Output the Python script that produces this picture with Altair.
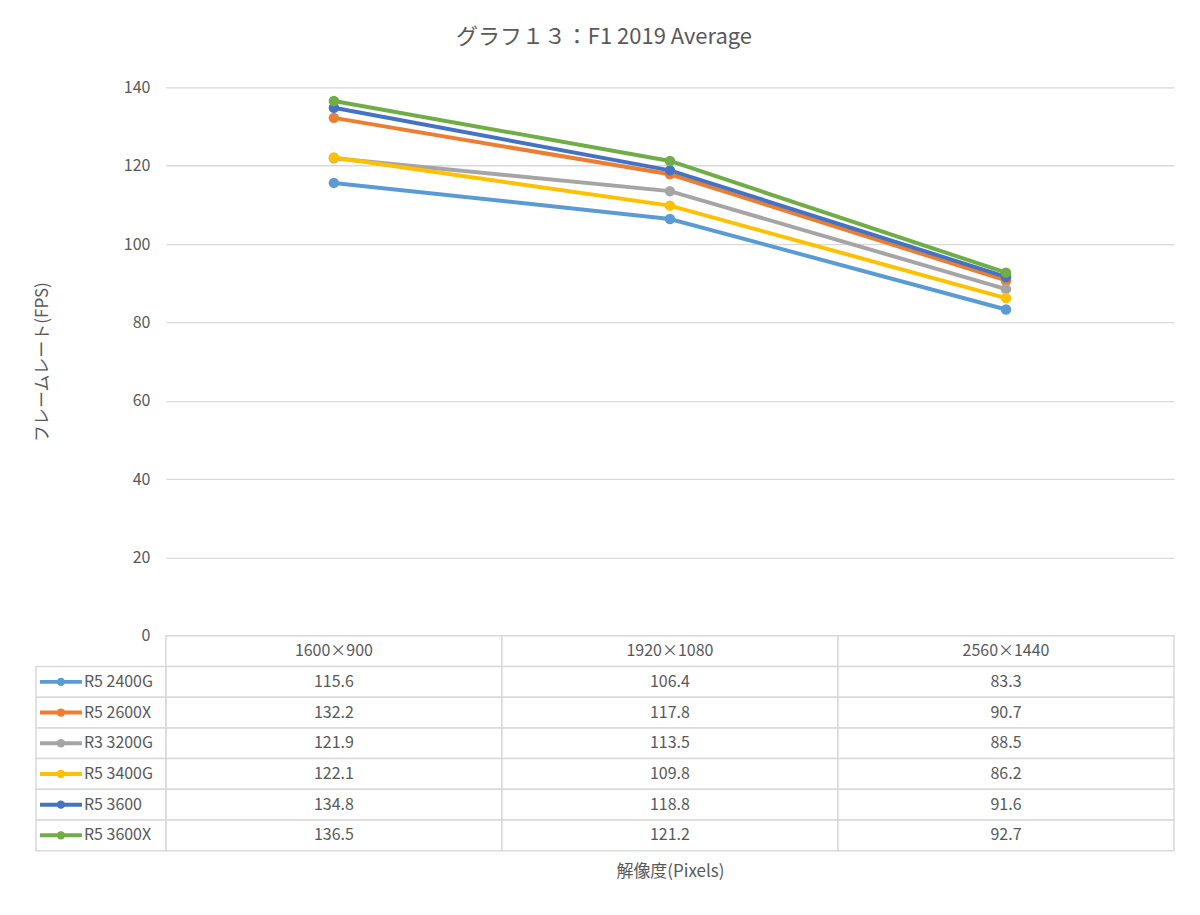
import altair as alt
import pandas as pd

series = ["R5 2400G", "R5 2600X", "R3 3200G", "R5 3400G", "R5 3600", "R5 3600X"]
resolutions = ["1600×900", "1920×1080", "2560×1440"]
colors = ["#5B9BD5", "#ED7D31", "#A5A5A5", "#FFC000", "#4472C4", "#70AD47"]

v_2400g = [115.6, 106.4, 83.3]
v_2600x = [132.2, 117.8, 90.7]
v_3200g = [121.9, 113.5, 88.5]
v_3400g = [122.1, 109.8, 86.2]
v_3600 = [134.8, 118.8, 91.6]
v_3600x = [136.5, 121.2, 92.7]

values = [v_2400g, v_2600x, v_3200g, v_3400g, v_3600, v_3600x]

FONT = "Noto Sans CJK JP"
TXT = "#595959"
GRID = "#D9D9D9"

rows = []
for i, (s, vals) in enumerate(zip(series, values)):
    for r, v in zip(resolutions, vals):
        rows.append({"series": s, "order": i, "res": r, "fps": v, "label": f"{v:.1f}"})
df = pd.DataFrame(rows)

header = pd.DataFrame({"series": ["_h"] * 3, "res": resolutions, "label": resolutions})
table_df = pd.concat([header, df[["series", "res", "label"]]], ignore_index=True)
legend_df = pd.DataFrame({"series": series})

row_order = ["_h"] + series
color_scale = alt.Scale(domain=series, range=colors)

x_pt = alt.X("res:N", scale=alt.Scale(type="point", domain=resolutions, padding=0.5), axis=None)
y_q = alt.Y(
    "fps:Q",
    scale=alt.Scale(domain=[0, 140], nice=False),
    axis=alt.Axis(
        values=list(range(0, 141, 20)),
        title="フレームレート(FPS)",
        titleFont=FONT, titleFontSize=17, titleFontWeight="normal", titleColor=TXT,
        titlePadding=72,
        labelFont=FONT, labelFontSize=16, labelColor=TXT, labelPadding=16,
        ticks=False, domain=False, grid=True, gridColor=GRID, gridWidth=1.3,
    ),
)

base = alt.Chart(df)
lines = base.mark_line(strokeWidth=4).encode(
    x=x_pt, y=y_q,
    color=alt.Color("series:N", scale=color_scale, legend=None),
    order=alt.Order("order:Q"),
    detail="series:N",
)
points = base.mark_circle(size=110, opacity=1).encode(
    x=x_pt, y="fps:Q",
    color=alt.Color("series:N", scale=color_scale, legend=None),
    order=alt.Order("order:Q"),
)
top = alt.layer(lines, points).properties(width=1009, height=549)

# ---- data table below ----
x_band = alt.X(
    "res:N",
    scale=alt.Scale(type="band", domain=resolutions, paddingInner=0, paddingOuter=0),
    axis=alt.Axis(
        title="解像度(Pixels)", titleFont=FONT, titleFontSize=17, titleFontWeight="normal",
        titleColor=TXT, titlePadding=13, labels=False, ticks=False, domain=False,
    ),
)
y_band = alt.Y("series:N", scale=alt.Scale(type="band", domain=row_order, paddingInner=0, paddingOuter=0), axis=None)

tb = alt.Chart(table_df)
cells = tb.mark_rect(fill="white", stroke=GRID, strokeWidth=1.5).encode(x=x_band, y=y_band)
cell_text = tb.mark_text(font=FONT, fontSize=16, color=TXT).encode(x=x_band, y=y_band, text="label:N")

lg = alt.Chart(legend_df)
leg_cells = lg.mark_rect(fill="white", stroke=GRID, strokeWidth=1.5).encode(
    x=alt.value(-130), x2=alt.value(0), y=y_band
)
leg_lines = lg.mark_rule(strokeWidth=4).encode(
    x=alt.value(-126), x2=alt.value(-84), y=y_band,
    color=alt.Color("series:N", scale=color_scale, legend=None),
)
leg_pts = lg.mark_circle(size=70, opacity=1).encode(
    x=alt.value(-105), y=y_band,
    color=alt.Color("series:N", scale=color_scale, legend=None),
)
leg_text = lg.mark_text(font=FONT, fontSize=16, color=TXT, align="left").encode(
    x=alt.value(-82), y=y_band, text="series:N"
)

bottom = alt.layer(cells, cell_text, leg_cells, leg_lines, leg_pts, leg_text).properties(width=1009, height=215)

chart = (
    alt.vconcat(top, bottom, spacing=0, bounds="flush")
    .properties(
        title=alt.TitleParams(
            "グラフ１３：F1 2019 Average", font=FONT, fontSize=22, fontWeight="normal",
            color=TXT, anchor="middle", offset=30,
        ),
        padding={"left": 25, "top": 18, "right": 17, "bottom": 10},
        background="white",
    )
    .configure_view(stroke=None)
    .configure_concat(spacing=0)
)

chart.save("out.html", embed_options={"renderer": "svg", "actions": False})
